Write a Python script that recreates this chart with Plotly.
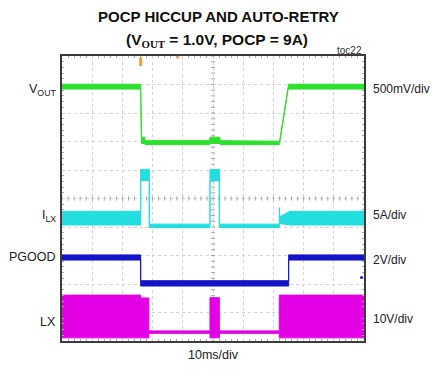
import numpy as np
import plotly.graph_objects as go

# ---------------- data (physical units, time in ms) ----------------
# VOUT (V), 500 mV/div
vout_t  = [0, 26.05, 26.3, 27.4, 27.5, 48.8, 49.0, 52.2, 52.4, 71.95, 72.05, 74.9, 75.0, 100]
vout_lo = [0.955, 0.955, 0.0, 0.0, -0.02, -0.02, 0.0, 0.0, -0.02, -0.02, 0.0, 0.96, 0.955, 0.955]
vout_hi = [1.04, 1.04, 0.11, 0.11, 0.05, 0.05, 0.11, 0.11, 0.05, 0.05, 0.04, 1.0, 1.04, 1.04]

# ILX (A), 5 A/div
ilx_t  = [0, 26.05, 26.05, 28.9, 28.9, 49.0, 49.0, 52.1, 52.1, 71.95, 71.95, 72.1, 75.5, 100]
ilx_lo = [-0.15, -0.15, 7.65, 7.65, -0.6, -0.6, 7.65, 7.65, -0.6, -0.6, -0.1, 0.1, -0.15, -0.15]
ilx_hi = [2.25, 2.25, 9.6, 9.6, 0.0, 0.0, 9.6, 9.6, 0.0, 0.0, 2.9, 1.3, 2.25, 2.25]

# PGOOD (V), 2 V/div
pg_t  = [0, 26.05, 26.05, 75.05, 75.05, 100]
pg_lo = [1.62, 1.62, -0.2, -0.2, 1.62, 1.62]
pg_hi = [1.98, 1.98, 0.17, 0.17, 1.98, 1.98]

# LX (V), 10 V/div
lx_t  = [0, 26.05, 26.05, 28.75, 28.75, 49.0, 49.0, 52.1, 52.1, 71.95, 71.95, 100]
lx_lo = [-2.0, -2.0, -2.0, -2.0, -0.4, -0.4, -2.0, -2.0, -0.4, -0.4, -2.0, -2.0]
lx_hi = [13.0, 13.0, 12.0, 12.0, 0.45, 0.45, 12.1, 12.1, 0.45, 0.45, 13.0, 13.0]

trigger_t = 26.05
trigger_pos_t = 38.4
pgood_dot = (99.2, 0.4)

# channel scales (units/div) and ground offsets (div from bottom)
scales  = {"vout": 0.5, "ilx": 5.0, "pg": 2.0, "lx": 10.0}
offsets = {"vout": 6.93, "ilx": 4.10, "pg": 2.03, "lx": 0.31}
colors  = {"vout": "#2ee02e", "ilx": "#22dede", "pg": "#1414c8", "lx": "#e400e4"}

left_labels  = ["V<sub>OUT</sub>", "I<sub>LX</sub>", "PGOOD", "LX"]
left_y       = [8.81, 4.39, 2.95, 0.65]
right_labels = ["500mV/div", "5A/div", "2V/div", "10V/div"]
right_y      = [8.84, 4.42, 2.84, 0.77]

def to_div(vals, ch):
    return [offsets[ch] + v / scales[ch] for v in vals]

fig = go.Figure()

# graticule: centre cross with minor ticks
cx = np.arange(0, 100.01, 2)
cy = np.arange(0, 10.01, 0.2)
fig.add_trace(go.Scatter(x=cx, y=[5] * len(cx), mode="markers",
                         marker=dict(symbol="line-ns-open", size=3, color="#a8a8a8",
                                     line=dict(color="#a8a8a8", width=1)),
                         hoverinfo="skip", showlegend=False))
fig.add_trace(go.Scatter(x=[50] * len(cy), y=cy, mode="markers",
                         marker=dict(symbol="line-ew-open", size=3, color="#a8a8a8",
                                     line=dict(color="#a8a8a8", width=1)),
                         hoverinfo="skip", showlegend=False))

def band(t, lo, hi, ch):
    xs = list(t) + list(t)[::-1]
    ys = to_div(hi, ch) + to_div(lo, ch)[::-1]
    fig.add_trace(go.Scatter(x=xs, y=ys, mode="lines", fill="toself",
                             fillcolor=colors[ch], line=dict(color=colors[ch], width=1),
                             hoverinfo="skip", showlegend=False))

band(vout_t, vout_lo, vout_hi, "vout")
band(ilx_t, ilx_lo, ilx_hi, "ilx")
band(pg_t, pg_lo, pg_hi, "pg")
band(lx_t, lx_lo, lx_hi, "lx")

# PGOOD marker dot
fig.add_trace(go.Scatter(x=[pgood_dot[0]], y=to_div([pgood_dot[1]], "pg"), mode="markers",
                         marker=dict(color=colors["pg"], size=3), hoverinfo="skip", showlegend=False))
# trigger markers
fig.add_trace(go.Scatter(x=[trigger_t, trigger_t], y=[9.65, 9.95], mode="lines",
                         line=dict(color="#f4a030", width=3), hoverinfo="skip", showlegend=False))
fig.add_trace(go.Scatter(x=[trigger_pos_t], y=[9.96], mode="markers",
                         marker=dict(color="#f0b070", size=3, symbol="square"),
                         hoverinfo="skip", showlegend=False))

axis_common = dict(showticklabels=False, showgrid=True, gridcolor="#d4d4d4", griddash="dot",
                   gridwidth=1, zeroline=False, showline=True, linecolor="#3c3c3c", linewidth=2,
                   mirror="allticks", ticks="inside", ticklen=0, tickcolor="#3c3c3c")

fig.update_xaxes(range=[0, 100], dtick=10, **axis_common,
                 minor=dict(dtick=2, ticks="inside", ticklen=2, tickcolor="#a8a8a8", showgrid=False))
fig.update_yaxes(range=[0, 10], dtick=1, **axis_common,
                 minor=dict(dtick=0.2, ticks="inside", ticklen=2, tickcolor="#a8a8a8", showgrid=False))

ann = []
ann.append(dict(text="<b>POCP HICCUP AND AUTO-RETRY</b>", xref="paper", yref="paper",
                x=0.5166, y=1.139, showarrow=False, xanchor="center", yanchor="middle",
                font=dict(family="Liberation Sans, Arial", size=15, color="#111")))
ann.append(dict(text="<b>(V<sub><span style=\"font-family:'Liberation Serif'\">OUT</span></sub> = 1.0V, POCP = 9A)</b>",
                xref="paper", yref="paper", x=0.513, y=1.053, showarrow=False,
                xanchor="center", yanchor="middle",
                font=dict(family="Liberation Sans, Arial", size=15.5, color="#111")))
ann.append(dict(text="toc22", xref="paper", yref="paper", x=1, y=1.02, showarrow=False,
                xanchor="right", yanchor="middle",
                font=dict(family="Liberation Sans, Arial", size=10, color="#333")))
ann.append(dict(text="10ms/div", xref="paper", yref="paper", x=0.5, y=-0.049, showarrow=False,
                xanchor="center", yanchor="middle",
                font=dict(family="Liberation Sans, Arial", size=12.5, color="#222")))
for txt, yy in zip(left_labels, left_y):
    ann.append(dict(text=txt, xref="paper", yref="y", x=0, y=yy, xshift=-4, showarrow=False,
                    xanchor="right", yanchor="middle",
                    font=dict(family="Liberation Sans, Arial", size=12.5, color="#222")))
for txt, yy in zip(right_labels, right_y):
    ann.append(dict(text=txt, xref="paper", yref="y", x=1, y=yy, xshift=7, showarrow=False,
                    xanchor="left", yanchor="middle",
                    font=dict(family="Liberation Sans, Arial", size=12, color="#222")))

fig.update_layout(width=432, height=369, margin=dict(l=62, r=68, t=56, b=28),
                  plot_bgcolor="white", paper_bgcolor="white", annotations=ann, showlegend=False)

fig.write_html("out.html")
